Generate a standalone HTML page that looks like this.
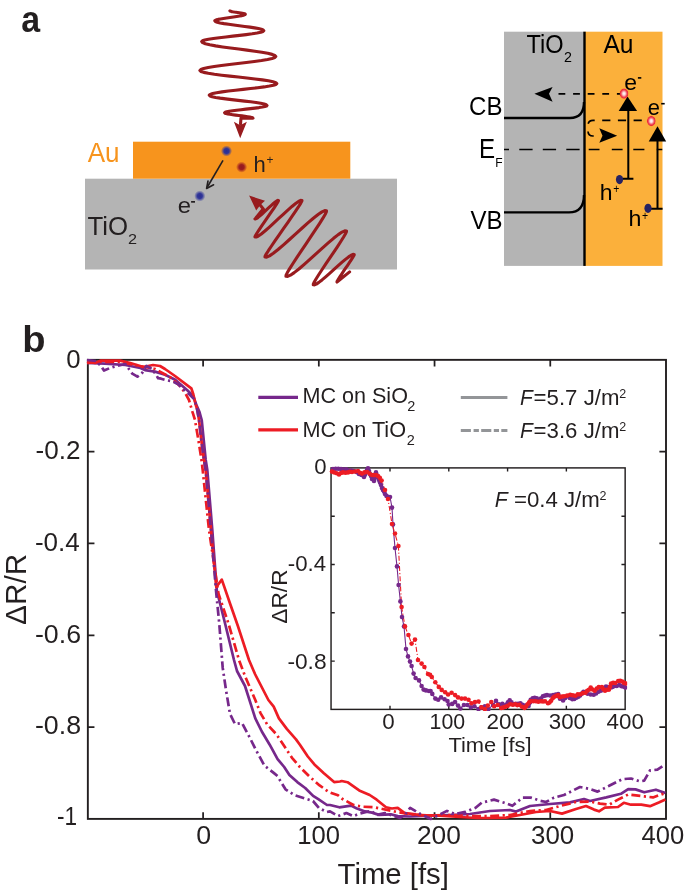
<!DOCTYPE html>
<html><head><meta charset="utf-8"><style>
html,body{margin:0;padding:0;background:#fff;}
body{width:685px;height:894px;overflow:hidden;}
svg{display:block;will-change:transform;font-family:"Liberation Sans", sans-serif;}
</style></head><body>
<svg width="685" height="894" viewBox="0 0 685 894">
<text transform="translate(21.21,31.90) scale(0.9300,1)" font-size="36.5" fill="#231f20" font-weight="bold" font-style="normal">a</text>
<rect x="85" y="178.7" width="312" height="90.8" fill="#b4b4b4"/>
<rect x="133" y="141.7" width="217.3" height="37" fill="#f7941d"/>
<text transform="translate(87.75,161.50) scale(0.9654,1)" font-size="27" fill="#f7941d" font-weight="normal" font-style="normal">Au</text>
<text transform="translate(87.52,235.10) scale(1.0252,1)" font-size="25.2" fill="#231f20" font-weight="normal" font-style="normal">TiO</text>
<text transform="translate(127.98,244.00) scale(1.0829,1)" font-size="15" fill="#231f20" font-weight="normal" font-style="normal">2</text>
<defs><radialGradient id="gb"><stop offset="0" stop-color="#2b2d8c"/><stop offset="0.45" stop-color="#30359a"/><stop offset="1" stop-color="#30359a" stop-opacity="0"/></radialGradient><radialGradient id="gr"><stop offset="0" stop-color="#921a1e"/><stop offset="0.45" stop-color="#9c1d21"/><stop offset="1" stop-color="#9c1d21" stop-opacity="0"/></radialGradient></defs>
<circle cx="226.5" cy="151" r="5.6" fill="url(#gb)"/>
<circle cx="241.6" cy="167.1" r="5.6" fill="url(#gr)"/>
<circle cx="199.8" cy="196" r="5.6" fill="url(#gb)"/>
<path d="M223,160.4 L207.4,187" stroke="#231f20" stroke-width="1.6" fill="none"/>
<path d="M206.6,188.5 L208,181 M206.6,188.5 L213.6,184.8" stroke="#231f20" stroke-width="1.6" fill="none" stroke-linecap="round"/>
<text transform="translate(253.47,172.40) scale(1.0112,1)" font-size="21.8" fill="#231f20" font-weight="normal" font-style="normal">h</text>
<text transform="translate(266.42,164.30) scale(0.8843,1)" font-size="13.5" fill="#231f20" font-weight="normal" font-style="normal">+</text>
<text transform="translate(177.79,212.70) scale(1.0849,1)" font-size="22" fill="#231f20" font-weight="normal" font-style="normal">e</text>
<rect x="191.1" y="201" width="3.9" height="1.7" fill="#231f20"/>
<path d="M229.90,10.90 L230.09,11.14 L230.66,11.37 L231.58,11.61 L232.80,11.84 L234.26,12.08 L235.89,12.31 L237.60,12.55 L239.31,12.79 L240.94,13.02 L242.40,13.26 L243.62,13.49 L244.54,13.73 L245.11,13.96 L245.30,14.20 L244.92,14.67 L243.79,15.14 L241.97,15.61 L239.56,16.09 L236.67,16.56 L233.44,17.03 L230.05,17.50 L226.66,17.97 L223.43,18.44 L220.54,18.91 L218.13,19.39 L216.31,19.86 L215.18,20.33 L214.80,20.80 L215.41,21.51 L217.23,22.21 L220.15,22.92 L224.02,23.63 L228.67,24.34 L233.85,25.04 L239.30,25.75 L244.75,26.46 L249.93,27.16 L254.58,27.87 L258.45,28.58 L261.37,29.29 L263.19,29.99 L263.80,30.70 L263.02,31.48 L260.73,32.26 L257.03,33.04 L252.11,33.81 L246.22,34.59 L239.66,35.37 L232.75,36.15 L225.84,36.93 L219.28,37.71 L213.39,38.49 L208.47,39.26 L204.77,40.04 L202.48,40.82 L201.70,41.60 L202.63,42.66 L205.37,43.73 L209.78,44.79 L215.65,45.86 L222.67,46.92 L230.51,47.99 L238.75,49.05 L246.99,50.11 L254.83,51.18 L261.85,52.24 L267.72,53.31 L272.13,54.37 L274.87,55.44 L275.80,56.50 L274.85,57.50 L272.04,58.50 L267.52,59.50 L261.51,60.50 L254.32,61.50 L246.29,62.50 L237.85,63.50 L229.41,64.50 L221.38,65.50 L214.19,66.50 L208.18,67.50 L203.66,68.50 L200.85,69.50 L199.90,70.50 L200.86,71.44 L203.71,72.37 L208.29,73.31 L214.38,74.24 L221.67,75.18 L229.79,76.11 L238.35,77.05 L246.91,77.99 L255.03,78.92 L262.32,79.86 L268.41,80.79 L272.99,81.73 L275.84,82.66 L276.80,83.60 L275.95,84.43 L273.46,85.26 L269.44,86.09 L264.09,86.91 L257.69,87.74 L250.56,88.57 L243.05,89.40 L235.54,90.23 L228.41,91.06 L222.01,91.89 L216.66,92.71 L212.64,93.54 L210.15,94.37 L209.30,95.20 L210.02,95.94 L212.16,96.67 L215.59,97.41 L220.16,98.14 L225.63,98.88 L231.73,99.61 L238.15,100.35 L244.57,101.09 L250.67,101.82 L256.14,102.56 L260.71,103.29 L264.14,104.03 L266.28,104.76 L267.00,105.50 L266.47,106.02 L264.90,106.54 L262.37,107.06 L259.02,107.59 L255.00,108.11 L250.52,108.63 L245.80,109.15 L241.08,109.67 L236.60,110.19 L232.58,110.71 L229.23,111.24 L226.70,111.76 L225.13,112.28 L224.60,112.80 L224.96,113.19 L226.01,113.57 L227.70,113.96 L229.95,114.34 L232.64,114.73 L235.64,115.11 L238.80,115.50 L241.96,115.89 L244.96,116.27 L247.65,116.66 L249.90,117.04 L251.59,117.43 L252.64,117.81 L253.00,118.20 L241.00,118.20 L240.50,124.00" stroke="#981b1e" stroke-width="3.1" fill="none" stroke-linejoin="round" stroke-linecap="round"/>
<path d="M240.2,138.2 L233.9,121.8 L240.2,125.2 L246.9,121.8 Z" fill="#981b1e"/>
<path d="M349.60,271.90 L336.99,282.00 L337.05,281.54 L337.60,280.45 L338.59,278.78 L339.98,276.62 L341.67,274.06 L343.58,271.22 L345.60,268.24 L347.62,265.26 L349.53,262.42 L351.22,259.86 L352.61,257.70 L353.60,256.04 L354.15,254.95 L354.21,254.48 L353.06,254.37 L351.18,255.20 L348.61,256.91 L345.45,259.37 L341.82,262.44 L337.87,265.94 L333.74,269.64 L329.62,273.35 L325.66,276.84 L322.03,279.91 L318.87,282.38 L316.31,284.09 L314.42,284.92 L313.28,284.81 L313.37,283.88 L314.41,281.74 L316.33,278.49 L319.00,274.26 L322.28,269.25 L325.98,263.71 L329.89,257.89 L333.80,252.06 L337.50,246.52 L340.78,241.51 L343.45,237.28 L345.36,234.03 L346.40,231.89 L346.50,230.96 L344.82,230.81 L342.04,232.07 L338.25,234.62 L333.57,238.31 L328.20,242.89 L322.34,248.10 L316.23,253.63 L310.12,259.16 L304.26,264.37 L298.88,268.96 L294.21,272.64 L290.42,275.19 L287.64,276.45 L285.96,276.30 L286.08,275.18 L287.35,272.57 L289.69,268.61 L292.95,263.46 L296.94,257.37 L301.45,250.61 L306.22,243.52 L310.99,236.44 L315.50,229.68 L319.50,223.59 L322.76,218.44 L325.09,214.47 L326.37,211.87 L326.49,210.75 L324.78,210.60 L321.96,211.88 L318.10,214.49 L313.35,218.25 L307.89,222.92 L301.93,228.23 L295.71,233.87 L289.50,239.50 L283.54,244.81 L278.07,249.49 L273.32,253.24 L269.47,255.85 L266.65,257.13 L264.94,256.98 L265.15,256.07 L266.36,253.87 L268.52,250.46 L271.48,246.01 L275.10,240.73 L279.16,234.87 L283.45,228.71 L287.75,222.56 L291.81,216.70 L295.42,211.42 L298.39,206.97 L300.54,203.56 L301.76,201.35 L301.97,200.44 L300.70,200.37 L298.56,201.41 L295.62,203.48 L291.99,206.44 L287.80,210.11 L283.22,214.28 L278.45,218.71 L273.68,223.13 L269.10,227.30 L264.91,230.97 L261.28,233.93 L258.34,236.00 L256.20,237.04 L254.93,236.97 L255.05,236.37 L255.81,234.94 L257.17,232.73 L259.06,229.86 L261.36,226.45 L263.95,222.67 L266.69,218.71 L269.43,214.74 L272.02,210.96 L274.32,207.55 L276.21,204.68 L277.57,202.48 L278.34,201.04 L278.45,200.44 L277.82,200.41 L276.76,200.95 L275.29,202.00 L273.47,203.50 L271.37,205.36 L269.08,207.46 L266.69,209.70 L264.30,211.93 L262.01,214.04 L259.91,215.90 L258.09,217.40 L256.62,218.45 L255.56,218.98 L254.93,218.96 L255.06,218.85 L255.38,218.49 L255.89,217.90 L256.55,217.10 L257.34,216.15 L258.22,215.08 L259.14,213.95 L260.06,212.83 L260.93,211.76 L261.72,210.80 L262.38,210.01 L262.89,209.42 L263.21,209.06 L263.34,208.95 L260.50,205.50" stroke="#981b1e" stroke-width="3.1" fill="none" stroke-linejoin="round" stroke-linecap="round"/>
<path d="M249.1,195.6 L265,200.8 L260.3,205 L256.2,210.4 Z" fill="#981b1e"/>
<rect x="504" y="31.7" width="80.5" height="234.2" fill="#b4b4b4"/>
<rect x="584.5" y="31.7" width="78" height="234.2" fill="#fbb03b"/>
<line x1="584.5" y1="31.7" x2="584.5" y2="265.9" stroke="#000" stroke-width="2.4"/>
<text transform="translate(526.47,52.80) scale(0.9133,1)" font-size="25.8" fill="#000" font-weight="normal" font-style="normal">TiO</text>
<text transform="translate(563.98,61.80) scale(0.9205,1)" font-size="15.5" fill="#000" font-weight="normal" font-style="normal">2</text>
<text transform="translate(603.45,52.80) scale(0.9532,1)" font-size="25.8" fill="#000" font-weight="normal" font-style="normal">Au</text>
<text transform="translate(469.08,115.40) scale(0.9352,1)" font-size="25.7" fill="#000" font-weight="normal" font-style="normal">CB</text>
<text transform="translate(479.12,158.20) scale(0.8952,1)" font-size="27" fill="#000" font-weight="normal" font-style="normal">E</text>
<text transform="translate(495.21,166.80) scale(1.0059,1)" font-size="12" fill="#000" font-weight="normal" font-style="normal">F</text>
<text transform="translate(470.39,229.30) scale(0.9073,1)" font-size="26.5" fill="#000" font-weight="normal" font-style="normal">VB</text>
<path d="M504,118 L570,118 Q584,118 584,102" stroke="#000" stroke-width="2.4" fill="none"/>
<path d="M504,212.4 L569,212.4 Q584,212.4 584,195" stroke="#000" stroke-width="2.4" fill="none"/>
<path d="M504,149.5 L509,149.5 M519.3,149.5 L532.6,149.5 M542.8,149.5 L556.1,149.5 M566.3,149.5 L579.6,149.5 M588.7,149.5 L599.5,149.5 M611.8,149.5 L622.6,149.5 M633.3,149.5 L644.4,149.5 M656.8,149.5 L662.3,149.5" stroke="#000" stroke-width="1.7" fill="none"/>
<path d="M558.5,93.8 L621,93.8" stroke="#000" stroke-width="1.7" stroke-dasharray="6.8,7.8" fill="none"/>
<path d="M534.4,93.8 L552.6,87.1 L549,93.8 L552.6,101.7 Z" fill="#000"/>
<path d="M641.8,120.3 L593,120.3 Q588,120.3 588,125.5 L588,131 Q588,136 593,136 L596,136" stroke="#000" stroke-width="1.7" stroke-dasharray="8.2,7.5" fill="none"/>
<path d="M617.2,135.7 L599.3,128.3 L602.5,135.7 L599.3,142.7 Z" fill="#000"/>
<path d="M628.3,108 L628.3,178.8 M621.7,178.8 L633.4,178.8" stroke="#000" stroke-width="2" fill="none"/>
<path d="M627.5,96.5 L618.7,111 L637.1,111 Z" fill="#000"/>
<path d="M657.5,138 L657.5,208.8 M650.9,208.8 L662.6,208.8" stroke="#000" stroke-width="2" fill="none"/>
<path d="M657.5,126.3 L648.7,141.6 L666.2,141.6 Z" fill="#000"/>
<ellipse cx="619.5" cy="179.6" rx="3.6" ry="4.6" fill="#262262"/>
<ellipse cx="648" cy="208.3" rx="3.6" ry="4.6" fill="#262262"/>
<defs><radialGradient id="ge"><stop offset="0" stop-color="#ffffff"/><stop offset="0.3" stop-color="#fad4d6"/><stop offset="0.65" stop-color="#f0505c"/><stop offset="0.85" stop-color="#ec2a3a"/><stop offset="1" stop-color="#ec2a3a" stop-opacity="0.3"/></radialGradient></defs>
<ellipse cx="624" cy="93.6" rx="4.5" ry="5.3" fill="url(#ge)"/>
<ellipse cx="651.3" cy="121" rx="4.5" ry="5.3" fill="url(#ge)"/>
<text transform="translate(624.22,89.50) scale(1.0705,1)" font-size="21.5" fill="#000" font-weight="normal" font-style="normal">e</text>
<rect x="637.9" y="77.1" width="3.4" height="1.6" fill="#000"/>
<text transform="translate(647.77,115.20) scale(1.0210,1)" font-size="21.5" fill="#000" font-weight="normal" font-style="normal">e</text>
<rect x="661.2" y="102.9" width="3.5" height="1.6" fill="#000"/>
<text transform="translate(599.71,200.00) scale(1.0694,1)" font-size="21.5" fill="#000" font-weight="normal" font-style="normal">h</text>
<text transform="translate(613.19,192.50) scale(0.8075,1)" font-size="13" fill="#000" font-weight="normal" font-style="normal">+</text>
<text transform="translate(628.59,225.50) scale(1.0804,1)" font-size="21.5" fill="#000" font-weight="normal" font-style="normal">h</text>
<text transform="translate(641.99,219.50) scale(0.8075,1)" font-size="13" fill="#000" font-weight="normal" font-style="normal">+</text>
<text transform="translate(22.29,352.00) scale(1.0298,1)" font-size="37" fill="#231f20" font-weight="bold" font-style="normal">b</text>
<rect x="87.85" y="359.85" width="578.15" height="459.05" fill="none" stroke="#231f20" stroke-width="1.9"/>
<path d="M203.10,818.9 L203.10,812.3 M203.10,359.85 L203.10,366.45000000000005 M318.82,818.9 L318.82,812.3 M318.82,359.85 L318.82,366.45000000000005 M434.55,818.9 L434.55,812.3 M434.55,359.85 L434.55,366.45000000000005 M550.27,818.9 L550.27,812.3 M550.27,359.85 L550.27,366.45000000000005 M87.85,451.66 L94.44999999999999,451.66 M666.0,451.66 L659.4,451.66 M87.85,543.47 L94.44999999999999,543.47 M666.0,543.47 L659.4,543.47 M87.85,635.28 L94.44999999999999,635.28 M666.0,635.28 L659.4,635.28 M87.85,727.09 L94.44999999999999,727.09 M666.0,727.09 L659.4,727.09" stroke="#231f20" stroke-width="1.75" fill="none"/>
<g fill="none" stroke-width="2.7" stroke-linejoin="round">
<path d="M87.00,363.00 L105.00,363.60 L125.30,365.00 L140.40,368.00 L145.00,370.10 L155.00,371.60 L165.10,374.70 L175.20,379.70 L187.30,390.30 L193.30,396.30 L196.00,404.00 L199.50,412.00 L201.70,420.00 L203.70,440.00 L205.70,460.00 L207.30,470.00 L212.30,530.00 L216.80,590.50 L225.20,624.00 L234.00,660.00 L237.00,671.00 L245.00,686.00 L250.70,703.90 L255.30,718.40 L261.80,731.50 L269.70,744.70 L277.60,759.10 L284.20,767.00 L289.40,774.90 L297.30,782.10 L305.20,788.00 L313.10,795.90 L318.30,799.20 L327.00,805.00 L330.00,805.00 L339.30,807.30 L351.00,805.60 L356.90,808.50 L365.00,811.40 L372.00,812.60 L379.00,814.90 L390.70,814.30 L397.70,816.10 L410.00,816.50 L430.00,815.60 L450.00,815.00 L470.00,814.00 L490.00,811.00 L510.00,810.00 L516.00,811.60 L530.00,806.00 L550.00,804.00 L570.00,802.40 L584.00,799.00 L590.00,801.00 L606.30,797.40 L620.90,793.80 L628.20,789.10 L635.50,789.40 L644.20,792.30 L655.90,789.70 L665.40,793.00" stroke="#76288b"/>
<path d="M87.00,361.60 L95.00,363.00 L101.00,360.60 L120.00,360.60 L130.30,363.00 L143.40,367.00 L153.00,365.00 L160.00,366.00 L165.00,369.00 L175.00,376.00 L191.30,388.30 L193.30,394.30 L195.50,404.00 L197.40,410.00 L199.00,420.00 L201.30,440.00 L204.00,460.00 L205.70,470.00 L211.00,530.00 L216.30,587.00 L221.80,579.60 L230.20,604.00 L237.80,625.70 L249.00,660.00 L255.00,674.00 L268.40,700.00 L273.70,706.60 L278.90,718.40 L286.80,728.90 L296.00,739.40 L299.90,744.70 L307.80,756.50 L314.40,764.40 L323.60,772.90 L334.10,782.10 L340.00,781.50 L341.70,781.00 L347.50,782.20 L359.20,790.40 L369.70,795.00 L376.70,799.70 L386.00,807.30 L391.90,808.50 L397.70,807.90 L404.70,813.10 L410.00,813.70 L420.00,815.00 L440.00,815.60 L460.00,817.00 L477.00,818.00 L490.00,818.00 L506.00,817.60 L520.00,815.00 L536.00,812.00 L550.00,811.00 L562.00,813.60 L576.00,809.00 L586.00,806.00 L594.00,809.60 L599.00,811.30 L604.80,807.70 L618.00,807.00 L623.80,802.80 L631.00,804.70 L641.30,804.70 L650.00,806.20 L658.80,802.60 L665.40,799.60" stroke="#ed1c24"/>
<path d="M87.00,363.00 L101.00,362.00 L120.00,362.00 L140.00,366.00 L155.00,369.00 L170.20,377.20 L180.20,386.20 L185.30,393.30 L189.00,400.00 L192.30,411.40 L195.00,420.00 L198.40,440.00 L201.50,460.00 L202.70,470.00 L209.00,530.00 L218.50,593.80 L228.60,624.00 L239.00,660.00 L245.00,676.00 L255.30,700.00 L260.50,713.10 L267.10,724.30 L276.30,734.20 L284.20,746.00 L292.00,757.80 L299.90,767.00 L309.10,776.20 L319.60,785.40 L328.80,792.00 L338.00,795.30 L341.70,798.50 L353.40,805.00 L362.70,806.70 L374.40,807.30 L382.60,809.00 L394.20,811.40 L410.00,814.30 L430.00,815.60 L450.00,815.00 L470.00,816.00 L490.00,816.00 L510.00,815.00 L530.00,811.00 L546.00,810.00 L560.00,806.00 L576.00,802.00 L590.00,801.60 L600.00,803.60 L609.20,804.70 L618.00,799.60 L628.20,794.50 L644.20,796.40 L653.00,797.40 L665.40,793.00" stroke="#ed1c24" stroke-dasharray="9,3.5,2.2,3.5"/>
<path d="M87.00,360.00 L96.00,361.00 L101.00,366.00 L104.00,370.60 L110.00,368.00 L118.00,365.60 L125.30,364.00 L132.30,373.70 L137.40,376.70 L142.40,372.60 L146.40,366.00 L150.50,368.00 L155.00,373.10 L158.10,378.20 L161.10,378.70 L166.10,380.20 L172.20,381.20 L178.20,384.20 L183.30,389.30 L189.30,394.30 L194.30,399.30 L196.50,406.00 L199.00,420.00 L201.30,440.00 L204.00,460.00 L205.70,470.00 L211.00,530.00 L216.00,590.50 L219.30,624.00 L222.70,667.70 L226.00,690.00 L230.00,714.00 L235.00,724.00 L242.00,723.00 L250.00,738.10 L256.60,751.20 L264.50,765.70 L273.70,772.90 L277.60,776.20 L281.50,782.80 L285.50,789.30 L294.70,795.30 L305.20,798.50 L313.00,801.00 L319.00,808.00 L327.00,812.00 L330.00,811.40 L338.20,816.10 L346.40,813.10 L353.40,816.10 L359.20,813.70 L370.90,810.80 L376.70,814.90 L384.90,813.10 L400.10,818.00 L404.70,814.90 L410.20,807.80 L420.40,814.00 L430.70,819.00 L440.90,814.00 L447.00,810.90 L455.20,814.00 L465.40,811.90 L475.60,807.80 L481.70,802.70 L494.00,799.60 L504.20,802.70 L512.40,805.80 L522.60,797.60 L530.80,797.60 L540.00,800.70 L546.00,802.00 L554.00,797.60 L564.00,795.00 L580.00,787.00 L588.80,788.70 L597.50,791.60 L609.20,785.80 L622.30,779.20 L631.00,778.50 L639.90,781.40 L644.20,780.70 L650.00,770.40 L657.40,769.70 L664.00,765.30" stroke="#76288b" stroke-dasharray="9,3.5,2.2,3.5"/>
</g>
<text transform="translate(196.25,843.60) scale(1.0299,1)" font-size="26" fill="#231f20" font-weight="normal" font-style="normal">0</text>
<text transform="translate(297.25,843.60) scale(0.9855,1)" font-size="26" fill="#231f20" font-weight="normal" font-style="normal">100</text>
<text transform="translate(416.98,843.60) scale(1.0132,1)" font-size="26" fill="#231f20" font-weight="normal" font-style="normal">200</text>
<text transform="translate(531.01,843.60) scale(0.9958,1)" font-size="26" fill="#231f20" font-weight="normal" font-style="normal">300</text>
<text transform="translate(641.51,843.60) scale(0.9840,1)" font-size="26" fill="#231f20" font-weight="normal" font-style="normal">400</text>
<text transform="translate(66.19,367.60) scale(0.9896,1)" font-size="26" fill="#231f20" font-weight="normal" font-style="normal">0</text>
<text transform="translate(35.44,459.20) scale(1.0038,1)" font-size="26" fill="#231f20" font-weight="normal" font-style="normal">-0.2</text>
<text transform="translate(34.94,551.00) scale(1.0015,1)" font-size="26" fill="#231f20" font-weight="normal" font-style="normal">-0.4</text>
<text transform="translate(34.91,642.50) scale(1.0305,1)" font-size="26" fill="#231f20" font-weight="normal" font-style="normal">-0.6</text>
<text transform="translate(34.91,733.70) scale(1.0302,1)" font-size="26" fill="#231f20" font-weight="normal" font-style="normal">-0.8</text>
<text transform="translate(57.00,824.80) scale(0.8698,1)" font-size="26" fill="#231f20" font-weight="normal" font-style="normal">-1</text>
<text transform="translate(337.54,883.50) scale(1.0266,1)" font-size="28.6" fill="#231f20" font-weight="normal" font-style="normal">Time [fs]</text>
<text transform="translate(25.50,624.99) rotate(-90) scale(1.0093,1)" font-size="29.5" fill="#231f20" font-weight="normal" font-style="normal">ΔR/R</text>
<path d="M258.3,397.4 L298,397.4" stroke="#76288b" stroke-width="3.3"/>
<path d="M258.3,429.9 L298,429.9" stroke="#ed1c24" stroke-width="3.3"/>
<text transform="translate(302.43,403.40) scale(0.9952,1)" font-size="21.7" fill="#231f20" font-weight="normal" font-style="normal">MC on SiO</text>
<text transform="translate(407.27,410.80) scale(1.0348,1)" font-size="14" fill="#231f20" font-weight="normal" font-style="normal">2</text>
<text transform="translate(302.42,437.40) scale(1.0000,1)" font-size="21.7" fill="#231f20" font-weight="normal" font-style="normal">MC on TiO</text>
<text transform="translate(406.77,444.80) scale(1.0348,1)" font-size="14" fill="#231f20" font-weight="normal" font-style="normal">2</text>
<path d="M460.8,397.5 L507.4,397.5" stroke="#939598" stroke-width="2.8"/>
<path d="M460.8,430.5 L470.9,430.5 M473.6,430.5 L478.9,430.5 M481.2,430.5 L491.3,430.5 M493.8,430.5 L499,430.5 M501.3,430.5 L507.4,430.5" stroke="#939598" stroke-width="2.8"/>
<text transform="translate(520.06,405.30) scale(0.9370,1)" font-size="22.3" fill="#231f20" font-weight="normal" font-style="italic">F</text>
<text transform="translate(533.61,405.30) scale(0.9966,1)" font-size="22.3" fill="#231f20" font-weight="normal" font-style="normal">=5.7 J/m</text>
<text transform="translate(619.27,398.10) scale(0.9268,1)" font-size="13.5" fill="#231f20" font-weight="normal" font-style="normal">2</text>
<text transform="translate(520.06,438.30) scale(0.9370,1)" font-size="22.3" fill="#231f20" font-weight="normal" font-style="italic">F</text>
<text transform="translate(533.61,438.30) scale(0.9966,1)" font-size="22.3" fill="#231f20" font-weight="normal" font-style="normal">=3.6 J/m</text>
<text transform="translate(619.27,431.10) scale(0.9268,1)" font-size="13.5" fill="#231f20" font-weight="normal" font-style="normal">2</text>
<rect x="331.05" y="467.9" width="294.10" height="241.50" fill="#fff"/>
<rect x="331.05" y="467.9" width="294.10" height="241.50" fill="none" stroke="#231f20" stroke-width="1.45"/>
<path d="M390.00,709.4 L390.00,705.6999999999999 M390.00,467.9 L390.00,471.59999999999997 M448.79,709.4 L448.79,705.6999999999999 M448.79,467.9 L448.79,471.59999999999997 M507.58,709.4 L507.58,705.6999999999999 M507.58,467.9 L507.58,471.59999999999997 M566.37,709.4 L566.37,705.6999999999999 M566.37,467.9 L566.37,471.59999999999997 M331.05,516.20 L334.75,516.20 M625.15,516.20 L621.4499999999999,516.20 M331.05,564.50 L334.75,564.50 M625.15,564.50 L621.4499999999999,564.50 M331.05,612.80 L334.75,612.80 M625.15,612.80 L621.4499999999999,612.80 M331.05,661.10 L334.75,661.10 M625.15,661.10 L621.4499999999999,661.10" stroke="#231f20" stroke-width="1.4" fill="none"/>
<clipPath id="insclip"><rect x="328.05" y="464.9" width="299.09999999999997" height="246.0"/></clipPath>
<g clip-path="url(#insclip)">
<path d="M333.00,469.00 L341.00,469.00 L354.00,471.00 L364.00,477.00 L368.00,468.40 L372.00,479.00 L374.00,481.00 L376.00,472.40 L379.00,480.00 L381.00,485.00 L383.00,490.00 L385.00,494.00 L388.00,497.00 L390.00,497.00 L392.00,507.60 L393.00,524.40 L395.00,548.00 L397.00,566.40 L398.60,585.00 L400.40,601.40 L402.00,617.00 L404.00,626.40 L406.00,649.00 L408.00,656.40 L410.00,661.60 L411.60,666.00 L413.60,673.60 L415.60,678.00 L419.00,680.40 L421.60,686.00 L423.60,689.60 L426.00,690.40 L429.00,691.00 L430.60,691.00 L432.30,693.90 L435.30,698.60 L438.20,699.80 L441.10,697.40 L444.60,699.20 L447.50,701.00 L448.70,704.50 L452.20,703.90 L455.10,702.10 L458.00,705.60 L460.40,708.50 L463.90,705.00 L467.40,705.00 L470.90,707.40 L474.40,706.20 L478.50,709.10 L481.40,707.40 L484.90,706.20 L488.40,709.10 L493.10,705.00 L496.00,700.90 L498.90,704.50 L502.40,703.90 L506.10,704.90 L509.70,700.30 L513.30,704.30 L520.40,703.30 L524.50,705.90 L528.60,705.90 L530.70,699.70 L534.70,697.70 L538.80,699.70 L542.90,696.20 L547.00,695.10 L553.10,695.10 L558.20,694.10 L560.00,698.80 L563.10,700.40 L567.20,696.30 L572.30,699.30 L578.40,696.80 L583.50,691.70 L587.60,693.70 L593.70,694.70 L600.90,690.70 L606.00,686.60 L610.10,687.60 L614.20,686.10 L619.30,685.00 L623.40,686.60 L625.40,687.60" stroke="#76288b" stroke-width="1.1" fill="none"/>
<path d="M332.00,471.60 L339.00,474.40 L343.00,472.40 L348.00,472.40 L352.00,472.00 L358.00,471.00 L362.00,473.60 L367.00,472.00 L372.00,475.00 L376.00,475.00 L378.00,476.00 L381.60,480.60 L385.00,490.00 L388.00,499.00 L392.00,524.00 L395.00,533.60 L398.40,546.00 L401.60,607.00 L405.00,626.40 L408.40,635.00 L411.60,643.60 L415.00,639.60 L418.00,660.00 L421.60,663.60 L424.40,667.00 L428.00,674.00 L430.00,674.70 L431.80,677.00 L435.30,682.30 L438.80,686.90 L441.70,689.90 L445.20,692.20 L448.10,694.50 L451.60,692.80 L455.10,695.10 L458.00,697.40 L461.50,698.60 L465.00,698.60 L468.50,699.80 L471.50,703.30 L475.00,702.10 L478.50,701.50 L481.40,707.40 L484.90,709.10 L487.80,705.60 L491.30,702.10 L494.20,706.20 L497.70,705.00 L501.20,708.00 L505.10,706.90 L510.20,704.30 L515.30,704.30 L519.40,704.90 L524.50,707.90 L527.60,704.30 L530.70,701.30 L535.80,701.30 L540.90,701.30 L545.00,701.30 L548.00,703.30 L551.10,700.80 L554.20,696.70 L558.20,695.10 L560.00,697.30 L564.10,696.30 L570.20,694.70 L575.30,695.80 L580.40,694.20 L585.50,692.70 L590.70,687.60 L594.70,690.70 L598.80,687.10 L601.90,687.10 L605.00,690.70 L609.00,689.60 L611.10,683.50 L615.20,683.00 L618.20,681.00 L622.30,681.50 L625.90,683.50" stroke="#ed1c24" stroke-width="1.1" fill="none" stroke-dasharray="5,2,1.2,2"/>
<circle cx="333.0" cy="469.0" r="2.3" fill="#76288b"/>
<circle cx="335.7" cy="468.8" r="2.3" fill="#76288b"/>
<circle cx="338.3" cy="468.7" r="2.3" fill="#76288b"/>
<circle cx="341.0" cy="469.0" r="2.3" fill="#76288b"/>
<circle cx="343.6" cy="469.6" r="2.3" fill="#76288b"/>
<circle cx="346.2" cy="469.4" r="2.3" fill="#76288b"/>
<circle cx="348.8" cy="470.2" r="2.3" fill="#76288b"/>
<circle cx="351.4" cy="470.5" r="2.3" fill="#76288b"/>
<circle cx="354.0" cy="471.0" r="2.3" fill="#76288b"/>
<circle cx="356.5" cy="472.1" r="2.3" fill="#76288b"/>
<circle cx="359.0" cy="474.0" r="2.3" fill="#76288b"/>
<circle cx="361.5" cy="475.0" r="2.3" fill="#76288b"/>
<circle cx="364.0" cy="477.0" r="2.3" fill="#76288b"/>
<circle cx="365.0" cy="474.8" r="2.3" fill="#76288b"/>
<circle cx="366.0" cy="472.3" r="2.3" fill="#76288b"/>
<circle cx="367.0" cy="470.1" r="2.3" fill="#76288b"/>
<circle cx="368.0" cy="468.4" r="2.3" fill="#76288b"/>
<circle cx="369.0" cy="471.0" r="2.3" fill="#76288b"/>
<circle cx="370.0" cy="474.0" r="2.3" fill="#76288b"/>
<circle cx="371.0" cy="476.0" r="2.3" fill="#76288b"/>
<circle cx="372.0" cy="479.0" r="2.3" fill="#76288b"/>
<circle cx="374.0" cy="481.0" r="2.3" fill="#76288b"/>
<circle cx="374.7" cy="477.9" r="2.3" fill="#76288b"/>
<circle cx="375.3" cy="475.4" r="2.3" fill="#76288b"/>
<circle cx="376.0" cy="472.4" r="2.3" fill="#76288b"/>
<circle cx="377.0" cy="475.4" r="2.3" fill="#76288b"/>
<circle cx="378.0" cy="477.5" r="2.3" fill="#76288b"/>
<circle cx="379.0" cy="480.0" r="2.3" fill="#76288b"/>
<circle cx="380.0" cy="482.4" r="2.3" fill="#76288b"/>
<circle cx="381.0" cy="485.0" r="2.3" fill="#76288b"/>
<circle cx="382.0" cy="488.0" r="2.3" fill="#76288b"/>
<circle cx="383.0" cy="490.0" r="2.3" fill="#76288b"/>
<circle cx="384.0" cy="491.5" r="2.3" fill="#76288b"/>
<circle cx="385.0" cy="494.0" r="2.3" fill="#76288b"/>
<circle cx="386.5" cy="495.9" r="2.3" fill="#76288b"/>
<circle cx="388.0" cy="497.0" r="2.3" fill="#76288b"/>
<circle cx="390.0" cy="497.0" r="2.3" fill="#76288b"/>
<circle cx="392.0" cy="507.6" r="2.3" fill="#76288b"/>
<circle cx="393.0" cy="524.4" r="2.3" fill="#76288b"/>
<circle cx="395.0" cy="548.0" r="2.3" fill="#76288b"/>
<circle cx="397.0" cy="566.4" r="2.3" fill="#76288b"/>
<circle cx="398.6" cy="585.0" r="2.3" fill="#76288b"/>
<circle cx="400.4" cy="601.4" r="2.3" fill="#76288b"/>
<circle cx="402.0" cy="617.0" r="2.3" fill="#76288b"/>
<circle cx="404.0" cy="626.4" r="2.3" fill="#76288b"/>
<circle cx="406.0" cy="649.0" r="2.3" fill="#76288b"/>
<circle cx="408.0" cy="656.4" r="2.3" fill="#76288b"/>
<circle cx="410.0" cy="661.6" r="2.3" fill="#76288b"/>
<circle cx="411.6" cy="666.0" r="2.3" fill="#76288b"/>
<circle cx="413.6" cy="673.6" r="2.3" fill="#76288b"/>
<circle cx="415.6" cy="678.0" r="2.3" fill="#76288b"/>
<circle cx="419.0" cy="680.4" r="2.3" fill="#76288b"/>
<circle cx="421.6" cy="686.0" r="2.3" fill="#76288b"/>
<circle cx="423.6" cy="689.6" r="2.3" fill="#76288b"/>
<circle cx="426.0" cy="690.4" r="2.3" fill="#76288b"/>
<circle cx="429.0" cy="691.0" r="2.3" fill="#76288b"/>
<circle cx="430.6" cy="691.0" r="2.3" fill="#76288b"/>
<circle cx="432.3" cy="693.9" r="2.3" fill="#76288b"/>
<circle cx="435.3" cy="698.6" r="2.3" fill="#76288b"/>
<circle cx="438.2" cy="699.8" r="2.3" fill="#76288b"/>
<circle cx="441.1" cy="697.4" r="2.3" fill="#76288b"/>
<circle cx="444.6" cy="699.2" r="2.3" fill="#76288b"/>
<circle cx="447.5" cy="701.0" r="2.3" fill="#76288b"/>
<circle cx="448.7" cy="704.5" r="2.3" fill="#76288b"/>
<circle cx="452.2" cy="703.9" r="2.3" fill="#76288b"/>
<circle cx="455.1" cy="702.1" r="2.3" fill="#76288b"/>
<circle cx="458.0" cy="705.6" r="2.3" fill="#76288b"/>
<circle cx="460.4" cy="708.5" r="2.3" fill="#76288b"/>
<circle cx="463.9" cy="705.0" r="2.3" fill="#76288b"/>
<circle cx="467.4" cy="705.0" r="2.3" fill="#76288b"/>
<circle cx="470.9" cy="707.4" r="2.3" fill="#76288b"/>
<circle cx="474.4" cy="706.2" r="2.3" fill="#76288b"/>
<circle cx="478.5" cy="709.1" r="2.3" fill="#76288b"/>
<circle cx="481.4" cy="707.4" r="2.3" fill="#76288b"/>
<circle cx="484.9" cy="706.2" r="2.3" fill="#76288b"/>
<circle cx="488.4" cy="709.1" r="2.3" fill="#76288b"/>
<circle cx="493.1" cy="705.0" r="2.3" fill="#76288b"/>
<circle cx="496.0" cy="700.9" r="2.3" fill="#76288b"/>
<circle cx="498.9" cy="704.5" r="2.3" fill="#76288b"/>
<circle cx="498.9" cy="704.5" r="2.3" fill="#76288b"/>
<circle cx="502.4" cy="703.9" r="2.3" fill="#76288b"/>
<circle cx="506.1" cy="704.9" r="2.3" fill="#76288b"/>
<circle cx="507.9" cy="702.3" r="2.3" fill="#76288b"/>
<circle cx="509.7" cy="700.3" r="2.3" fill="#76288b"/>
<circle cx="511.5" cy="702.4" r="2.3" fill="#76288b"/>
<circle cx="513.3" cy="704.3" r="2.3" fill="#76288b"/>
<circle cx="515.7" cy="703.8" r="2.3" fill="#76288b"/>
<circle cx="518.0" cy="703.8" r="2.3" fill="#76288b"/>
<circle cx="520.4" cy="703.3" r="2.3" fill="#76288b"/>
<circle cx="522.5" cy="704.8" r="2.3" fill="#76288b"/>
<circle cx="524.5" cy="705.9" r="2.3" fill="#76288b"/>
<circle cx="526.5" cy="705.4" r="2.3" fill="#76288b"/>
<circle cx="528.6" cy="705.9" r="2.3" fill="#76288b"/>
<circle cx="529.3" cy="703.2" r="2.3" fill="#76288b"/>
<circle cx="530.0" cy="702.2" r="2.3" fill="#76288b"/>
<circle cx="530.7" cy="699.7" r="2.3" fill="#76288b"/>
<circle cx="532.7" cy="698.4" r="2.3" fill="#76288b"/>
<circle cx="534.7" cy="697.7" r="2.3" fill="#76288b"/>
<circle cx="536.8" cy="698.4" r="2.3" fill="#76288b"/>
<circle cx="538.8" cy="699.7" r="2.3" fill="#76288b"/>
<circle cx="540.8" cy="698.5" r="2.3" fill="#76288b"/>
<circle cx="542.9" cy="696.2" r="2.3" fill="#76288b"/>
<circle cx="545.0" cy="695.6" r="2.3" fill="#76288b"/>
<circle cx="547.0" cy="695.1" r="2.3" fill="#76288b"/>
<circle cx="550.0" cy="695.5" r="2.3" fill="#76288b"/>
<circle cx="553.1" cy="695.1" r="2.3" fill="#76288b"/>
<circle cx="555.7" cy="694.6" r="2.3" fill="#76288b"/>
<circle cx="558.2" cy="694.1" r="2.3" fill="#76288b"/>
<circle cx="559.1" cy="696.6" r="2.3" fill="#76288b"/>
<circle cx="560.0" cy="698.8" r="2.3" fill="#76288b"/>
<circle cx="563.1" cy="700.4" r="2.3" fill="#76288b"/>
<circle cx="565.2" cy="697.9" r="2.3" fill="#76288b"/>
<circle cx="567.2" cy="696.3" r="2.3" fill="#76288b"/>
<circle cx="569.8" cy="698.0" r="2.3" fill="#76288b"/>
<circle cx="572.3" cy="699.3" r="2.3" fill="#76288b"/>
<circle cx="574.3" cy="698.9" r="2.3" fill="#76288b"/>
<circle cx="576.4" cy="697.7" r="2.3" fill="#76288b"/>
<circle cx="578.4" cy="696.8" r="2.3" fill="#76288b"/>
<circle cx="580.1" cy="695.4" r="2.3" fill="#76288b"/>
<circle cx="581.8" cy="693.6" r="2.3" fill="#76288b"/>
<circle cx="583.5" cy="691.7" r="2.3" fill="#76288b"/>
<circle cx="585.5" cy="692.2" r="2.3" fill="#76288b"/>
<circle cx="587.6" cy="693.7" r="2.3" fill="#76288b"/>
<circle cx="590.7" cy="694.5" r="2.3" fill="#76288b"/>
<circle cx="593.7" cy="694.7" r="2.3" fill="#76288b"/>
<circle cx="596.1" cy="693.5" r="2.3" fill="#76288b"/>
<circle cx="598.5" cy="691.8" r="2.3" fill="#76288b"/>
<circle cx="600.9" cy="690.7" r="2.3" fill="#76288b"/>
<circle cx="602.6" cy="688.8" r="2.3" fill="#76288b"/>
<circle cx="604.3" cy="688.4" r="2.3" fill="#76288b"/>
<circle cx="606.0" cy="686.6" r="2.3" fill="#76288b"/>
<circle cx="608.0" cy="687.1" r="2.3" fill="#76288b"/>
<circle cx="610.1" cy="687.6" r="2.3" fill="#76288b"/>
<circle cx="612.2" cy="687.1" r="2.3" fill="#76288b"/>
<circle cx="614.2" cy="686.1" r="2.3" fill="#76288b"/>
<circle cx="616.8" cy="686.0" r="2.3" fill="#76288b"/>
<circle cx="619.3" cy="685.0" r="2.3" fill="#76288b"/>
<circle cx="621.3" cy="686.1" r="2.3" fill="#76288b"/>
<circle cx="623.4" cy="686.6" r="2.3" fill="#76288b"/>
<circle cx="625.4" cy="687.6" r="2.3" fill="#76288b"/>
<circle cx="332.0" cy="471.6" r="2.3" fill="#ed1c24"/>
<circle cx="334.3" cy="472.5" r="2.3" fill="#ed1c24"/>
<circle cx="336.7" cy="473.3" r="2.3" fill="#ed1c24"/>
<circle cx="339.0" cy="474.4" r="2.3" fill="#ed1c24"/>
<circle cx="341.0" cy="473.0" r="2.3" fill="#ed1c24"/>
<circle cx="343.0" cy="472.4" r="2.3" fill="#ed1c24"/>
<circle cx="345.5" cy="472.8" r="2.3" fill="#ed1c24"/>
<circle cx="348.0" cy="472.4" r="2.3" fill="#ed1c24"/>
<circle cx="350.0" cy="471.7" r="2.3" fill="#ed1c24"/>
<circle cx="352.0" cy="472.0" r="2.3" fill="#ed1c24"/>
<circle cx="355.0" cy="471.5" r="2.3" fill="#ed1c24"/>
<circle cx="358.0" cy="471.0" r="2.3" fill="#ed1c24"/>
<circle cx="360.0" cy="472.7" r="2.3" fill="#ed1c24"/>
<circle cx="362.0" cy="473.6" r="2.3" fill="#ed1c24"/>
<circle cx="364.5" cy="472.4" r="2.3" fill="#ed1c24"/>
<circle cx="367.0" cy="472.0" r="2.3" fill="#ed1c24"/>
<circle cx="369.5" cy="473.6" r="2.3" fill="#ed1c24"/>
<circle cx="372.0" cy="475.0" r="2.3" fill="#ed1c24"/>
<circle cx="374.0" cy="475.1" r="2.3" fill="#ed1c24"/>
<circle cx="376.0" cy="475.0" r="2.3" fill="#ed1c24"/>
<circle cx="378.0" cy="476.0" r="2.3" fill="#ed1c24"/>
<circle cx="379.8" cy="477.8" r="2.3" fill="#ed1c24"/>
<circle cx="381.6" cy="480.6" r="2.3" fill="#ed1c24"/>
<circle cx="385.0" cy="490.0" r="2.3" fill="#ed1c24"/>
<circle cx="388.0" cy="499.0" r="2.3" fill="#ed1c24"/>
<circle cx="392.0" cy="524.0" r="2.3" fill="#ed1c24"/>
<circle cx="395.0" cy="533.6" r="2.3" fill="#ed1c24"/>
<circle cx="398.4" cy="546.0" r="2.3" fill="#ed1c24"/>
<circle cx="401.6" cy="607.0" r="2.3" fill="#ed1c24"/>
<circle cx="405.0" cy="626.4" r="2.3" fill="#ed1c24"/>
<circle cx="408.4" cy="635.0" r="2.3" fill="#ed1c24"/>
<circle cx="411.6" cy="643.6" r="2.3" fill="#ed1c24"/>
<circle cx="415.0" cy="639.6" r="2.3" fill="#ed1c24"/>
<circle cx="418.0" cy="660.0" r="2.3" fill="#ed1c24"/>
<circle cx="421.6" cy="663.6" r="2.3" fill="#ed1c24"/>
<circle cx="424.4" cy="667.0" r="2.3" fill="#ed1c24"/>
<circle cx="428.0" cy="674.0" r="2.3" fill="#ed1c24"/>
<circle cx="430.0" cy="674.7" r="2.3" fill="#ed1c24"/>
<circle cx="431.8" cy="677.0" r="2.3" fill="#ed1c24"/>
<circle cx="435.3" cy="682.3" r="2.3" fill="#ed1c24"/>
<circle cx="438.8" cy="686.9" r="2.3" fill="#ed1c24"/>
<circle cx="441.7" cy="689.9" r="2.3" fill="#ed1c24"/>
<circle cx="445.2" cy="692.2" r="2.3" fill="#ed1c24"/>
<circle cx="448.1" cy="694.5" r="2.3" fill="#ed1c24"/>
<circle cx="451.6" cy="692.8" r="2.3" fill="#ed1c24"/>
<circle cx="455.1" cy="695.1" r="2.3" fill="#ed1c24"/>
<circle cx="458.0" cy="697.4" r="2.3" fill="#ed1c24"/>
<circle cx="461.5" cy="698.6" r="2.3" fill="#ed1c24"/>
<circle cx="465.0" cy="698.6" r="2.3" fill="#ed1c24"/>
<circle cx="468.5" cy="699.8" r="2.3" fill="#ed1c24"/>
<circle cx="471.5" cy="703.3" r="2.3" fill="#ed1c24"/>
<circle cx="475.0" cy="702.1" r="2.3" fill="#ed1c24"/>
<circle cx="478.5" cy="701.5" r="2.3" fill="#ed1c24"/>
<circle cx="481.4" cy="707.4" r="2.3" fill="#ed1c24"/>
<circle cx="484.9" cy="709.1" r="2.3" fill="#ed1c24"/>
<circle cx="487.8" cy="705.6" r="2.3" fill="#ed1c24"/>
<circle cx="491.3" cy="702.1" r="2.3" fill="#ed1c24"/>
<circle cx="494.2" cy="706.2" r="2.3" fill="#ed1c24"/>
<circle cx="497.7" cy="705.0" r="2.3" fill="#ed1c24"/>
<circle cx="501.2" cy="708.0" r="2.3" fill="#ed1c24"/>
<circle cx="503.1" cy="707.6" r="2.3" fill="#ed1c24"/>
<circle cx="505.1" cy="706.9" r="2.3" fill="#ed1c24"/>
<circle cx="507.6" cy="705.9" r="2.3" fill="#ed1c24"/>
<circle cx="510.2" cy="704.3" r="2.3" fill="#ed1c24"/>
<circle cx="512.8" cy="704.7" r="2.3" fill="#ed1c24"/>
<circle cx="515.3" cy="704.3" r="2.3" fill="#ed1c24"/>
<circle cx="517.3" cy="705.1" r="2.3" fill="#ed1c24"/>
<circle cx="519.4" cy="704.9" r="2.3" fill="#ed1c24"/>
<circle cx="522.0" cy="706.7" r="2.3" fill="#ed1c24"/>
<circle cx="524.5" cy="707.9" r="2.3" fill="#ed1c24"/>
<circle cx="526.0" cy="706.6" r="2.3" fill="#ed1c24"/>
<circle cx="527.6" cy="704.3" r="2.3" fill="#ed1c24"/>
<circle cx="529.2" cy="702.2" r="2.3" fill="#ed1c24"/>
<circle cx="530.7" cy="701.3" r="2.3" fill="#ed1c24"/>
<circle cx="533.2" cy="701.3" r="2.3" fill="#ed1c24"/>
<circle cx="535.8" cy="701.3" r="2.3" fill="#ed1c24"/>
<circle cx="538.3" cy="701.8" r="2.3" fill="#ed1c24"/>
<circle cx="540.9" cy="701.3" r="2.3" fill="#ed1c24"/>
<circle cx="543.0" cy="701.5" r="2.3" fill="#ed1c24"/>
<circle cx="545.0" cy="701.3" r="2.3" fill="#ed1c24"/>
<circle cx="548.0" cy="703.3" r="2.3" fill="#ed1c24"/>
<circle cx="549.5" cy="702.5" r="2.3" fill="#ed1c24"/>
<circle cx="551.1" cy="700.8" r="2.3" fill="#ed1c24"/>
<circle cx="552.7" cy="698.3" r="2.3" fill="#ed1c24"/>
<circle cx="554.2" cy="696.7" r="2.3" fill="#ed1c24"/>
<circle cx="556.2" cy="695.9" r="2.3" fill="#ed1c24"/>
<circle cx="558.2" cy="695.1" r="2.3" fill="#ed1c24"/>
<circle cx="560.0" cy="697.3" r="2.3" fill="#ed1c24"/>
<circle cx="562.0" cy="696.5" r="2.3" fill="#ed1c24"/>
<circle cx="564.1" cy="696.3" r="2.3" fill="#ed1c24"/>
<circle cx="567.2" cy="695.6" r="2.3" fill="#ed1c24"/>
<circle cx="570.2" cy="694.7" r="2.3" fill="#ed1c24"/>
<circle cx="572.8" cy="695.3" r="2.3" fill="#ed1c24"/>
<circle cx="575.3" cy="695.8" r="2.3" fill="#ed1c24"/>
<circle cx="577.8" cy="694.4" r="2.3" fill="#ed1c24"/>
<circle cx="580.4" cy="694.2" r="2.3" fill="#ed1c24"/>
<circle cx="583.0" cy="693.1" r="2.3" fill="#ed1c24"/>
<circle cx="585.5" cy="692.7" r="2.3" fill="#ed1c24"/>
<circle cx="587.2" cy="690.7" r="2.3" fill="#ed1c24"/>
<circle cx="589.0" cy="689.8" r="2.3" fill="#ed1c24"/>
<circle cx="590.7" cy="687.6" r="2.3" fill="#ed1c24"/>
<circle cx="592.7" cy="689.5" r="2.3" fill="#ed1c24"/>
<circle cx="594.7" cy="690.7" r="2.3" fill="#ed1c24"/>
<circle cx="596.8" cy="688.5" r="2.3" fill="#ed1c24"/>
<circle cx="598.8" cy="687.1" r="2.3" fill="#ed1c24"/>
<circle cx="601.9" cy="687.1" r="2.3" fill="#ed1c24"/>
<circle cx="603.5" cy="689.3" r="2.3" fill="#ed1c24"/>
<circle cx="605.0" cy="690.7" r="2.3" fill="#ed1c24"/>
<circle cx="607.0" cy="689.7" r="2.3" fill="#ed1c24"/>
<circle cx="609.0" cy="689.6" r="2.3" fill="#ed1c24"/>
<circle cx="610.0" cy="686.7" r="2.3" fill="#ed1c24"/>
<circle cx="611.1" cy="683.5" r="2.3" fill="#ed1c24"/>
<circle cx="613.2" cy="682.8" r="2.3" fill="#ed1c24"/>
<circle cx="615.2" cy="683.0" r="2.3" fill="#ed1c24"/>
<circle cx="618.2" cy="681.0" r="2.3" fill="#ed1c24"/>
<circle cx="620.2" cy="680.7" r="2.3" fill="#ed1c24"/>
<circle cx="622.3" cy="681.5" r="2.3" fill="#ed1c24"/>
<circle cx="624.1" cy="682.9" r="2.3" fill="#ed1c24"/>
<circle cx="625.9" cy="683.5" r="2.3" fill="#ed1c24"/>
</g>
<text transform="translate(382.13,728.90) scale(1.0315,1)" font-size="21.7" fill="#231f20" font-weight="normal" font-style="normal">0</text>
<text transform="translate(429.58,728.90) scale(0.9821,1)" font-size="21.7" fill="#231f20" font-weight="normal" font-style="normal">100</text>
<text transform="translate(486.57,728.90) scale(1.0360,1)" font-size="21.7" fill="#231f20" font-weight="normal" font-style="normal">200</text>
<text transform="translate(548.75,728.90) scale(1.0280,1)" font-size="21.7" fill="#231f20" font-weight="normal" font-style="normal">300</text>
<text transform="translate(606.49,728.90) scale(1.0327,1)" font-size="21.7" fill="#231f20" font-weight="normal" font-style="normal">400</text>
<text transform="translate(314.23,473.90) scale(1.0219,1)" font-size="21.7" fill="#231f20" font-weight="normal" font-style="normal">0</text>
<text transform="translate(287.81,571.20) scale(1.0254,1)" font-size="21.7" fill="#231f20" font-weight="normal" font-style="normal">-0.4</text>
<text transform="translate(287.39,668.80) scale(1.0483,1)" font-size="21.7" fill="#231f20" font-weight="normal" font-style="normal">-0.8</text>
<text transform="translate(448.41,752.10) scale(1.0429,1)" font-size="21" fill="#231f20" font-weight="normal" font-style="normal">Time [fs]</text>
<text transform="translate(286.60,623.68) rotate(-90) scale(1.0313,1)" font-size="22" fill="#231f20" font-weight="normal" font-style="normal">ΔR/R</text>
<text transform="translate(494.65,507.40) scale(0.9643,1)" font-size="22" fill="#231f20" font-weight="normal" font-style="italic">F</text>
<text transform="translate(513.91,507.40) scale(1.0114,1)" font-size="22" fill="#231f20" font-weight="normal" font-style="normal">=0.4 J/m</text>
<text transform="translate(599.47,500.10) scale(0.9268,1)" font-size="13.5" fill="#231f20" font-weight="normal" font-style="normal">2</text>
</svg>
</body></html>
